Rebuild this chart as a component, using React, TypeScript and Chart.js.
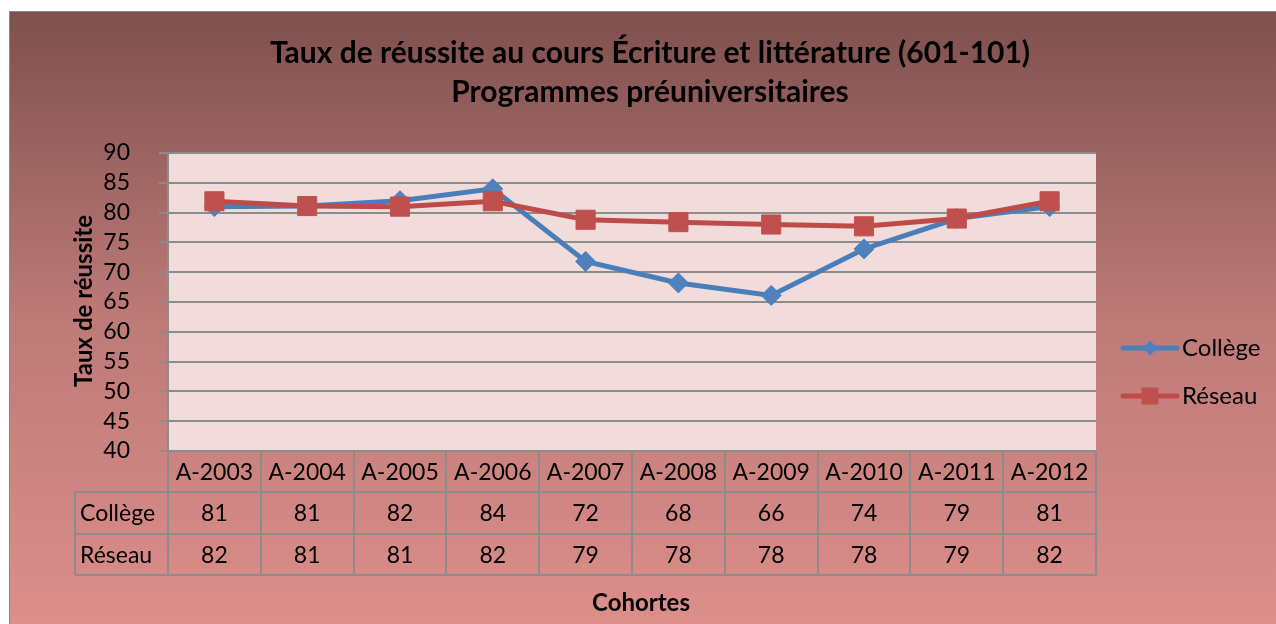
import React, { useEffect, useRef } from "react";
import { Chart, registerables } from "chart.js";

Chart.register(...registerables);

// ---- data ----
const categories = ["A-2003", "A-2004", "A-2005", "A-2006", "A-2007", "A-2008", "A-2009", "A-2010", "A-2011", "A-2012"];
const collegeValues = [81.0, 81.1, 82.0, 84.0, 71.8, 68.2, 66.1, 73.9, 79.0, 81.0];
const reseauValues = [81.9, 81.1, 81.0, 81.9, 78.8, 78.4, 78.0, 77.7, 79.0, 81.9];
const seriesNames = ["Collège", "Réseau"];
const yMin = 40;
const yMax = 90;
const yStep = 5;
const titleLines = ["Taux de réussite au cours Écriture et littérature (601-101)", "Programmes préuniversitaires"];
const yAxisTitle = "Taux de réussite";
const xAxisTitle = "Cohortes";

// ---- styles ----
const W = 1276;
const H = 624;
const FONT = "Lato, 'Noto Sans', sans-serif";
const GRID = "#8c8c8c";
const BLUE_LINE = "#4a7ebb";
const BLUE_FILL = "#4f81bd";
const RED_LINE = "#be4b48";
const RED_FILL = "#c0504d";

const bgPlugin = {
  id: "bgPlugin",
  beforeDraw(chart: any) {
    const { ctx, chartArea: a } = chart;
    ctx.save();
    ctx.fillStyle = "#ffffff";
    ctx.fillRect(0, 0, W, H);
    const g = ctx.createLinearGradient(0, 11, 0, H);
    g.addColorStop(0, "#7e504e");
    g.addColorStop(0.5, "#bd7a77");
    g.addColorStop(1, "#dc8e8a");
    ctx.fillStyle = g;
    ctx.fillRect(9, 11, W - 9, H - 11);
    ctx.strokeStyle = "#8a8a8a";
    ctx.lineWidth = 1;
    ctx.beginPath();
    ctx.moveTo(9.5, H);
    ctx.lineTo(9.5, 11.5);
    ctx.lineTo(W, 11.5);
    ctx.stroke();
    ctx.fillStyle = "#f2dcdb";
    ctx.fillRect(a.left, a.top, a.right - a.left, a.bottom - a.top);
    ctx.restore();
  },
};

function drawMarker(ctx: CanvasRenderingContext2D, kind: number, x: number, y: number, s: number) {
  ctx.beginPath();
  if (kind === 0) {
    ctx.moveTo(x, y - s);
    ctx.lineTo(x + s, y);
    ctx.lineTo(x, y + s);
    ctx.lineTo(x - s, y);
    ctx.closePath();
  } else {
    ctx.rect(x - s, y - s, 2 * s, 2 * s);
  }
  ctx.fill();
}

const textPlugin = {
  id: "textPlugin",
  afterDraw(chart: any) {
    const { ctx, chartArea: a } = chart;
    const xs = chart.scales.x;
    ctx.save();
    ctx.fillStyle = "#000";
    // title
    ctx.textAlign = "center";
    ctx.textBaseline = "middle";
    ctx.font = `bold 30px ${FONT}`;
    ctx.fillText(titleLines[0], 650, 53);
    ctx.fillText(titleLines[1], 650, 92);
    // y title
    ctx.save();
    ctx.translate(84, 301);
    ctx.rotate(-Math.PI / 2);
    ctx.font = `bold 24px ${FONT}`;
    ctx.fillText(yAxisTitle, 0, 0);
    ctx.restore();
    // x title
    ctx.font = `bold 24px ${FONT}`;
    ctx.fillText(xAxisTitle, 641, 603);

    // data table
    const n = categories.length;
    const colW = (xs.right - xs.left) / n;
    const top = a.bottom;
    const rowH = 41.3;
    const labelLeft = 75;
    ctx.strokeStyle = GRID;
    ctx.lineWidth = 2;
    ctx.beginPath();
    for (let r = 1; r <= 3; r++) {
      const y = Math.round(top + r * rowH);
      ctx.moveTo(labelLeft, y);
      ctx.lineTo(xs.right, y);
    }
    for (let i = 0; i <= n; i++) {
      const x = Math.round(xs.left + i * colW);
      ctx.moveTo(x, top);
      ctx.lineTo(x, Math.round(top + 3 * rowH));
    }
    ctx.moveTo(labelLeft, Math.round(top + rowH));
    ctx.lineTo(labelLeft, Math.round(top + 3 * rowH));
    ctx.stroke();

    ctx.font = `23px ${FONT}`;
    ctx.textAlign = "center";
    const rows = [collegeValues, reseauValues];
    categories.forEach((c, i) => {
      const cx = xs.getPixelForValue(i);
      ctx.fillText(c, cx, top + rowH / 2 + 1);
      rows.forEach((vals, r) => {
        ctx.fillText(String(Math.round(vals[i])), cx, top + (r + 1.5) * rowH + 1);
      });
    });
    ctx.textAlign = "left";
    seriesNames.forEach((name, r) => {
      ctx.fillText(name, 80, top + (r + 1.5) * rowH + 1);
    });

    // legend
    const legendY = [348, 396];
    const lineCols = [BLUE_LINE, RED_LINE];
    const fillCols = [BLUE_FILL, RED_FILL];
    seriesNames.forEach((name, r) => {
      const y = legendY[r];
      ctx.strokeStyle = lineCols[r];
      ctx.lineWidth = 5;
      ctx.lineCap = "round";
      ctx.beginPath();
      ctx.moveTo(1123, y);
      ctx.lineTo(1177, y);
      ctx.stroke();
      ctx.fillStyle = fillCols[r];
      drawMarker(ctx, r, 1150, y, r === 0 ? 7.5 : 8.5);
      ctx.fillStyle = "#000";
      ctx.font = `24px ${FONT}`;
      ctx.textAlign = "left";
      ctx.fillText(name, 1182, y);
    });
    ctx.restore();
  },
};

export default function App() {
  const ref = useRef<HTMLCanvasElement | null>(null);
  useEffect(() => {
    if (!ref.current) return;
    const chart = new Chart(ref.current, {
      type: "line",
      data: {
        labels: categories,
        datasets: [
          {
            label: seriesNames[0],
            data: collegeValues,
            borderColor: BLUE_LINE,
            backgroundColor: BLUE_FILL,
            borderWidth: 5,
            pointStyle: "rectRot",
            pointRadius: 10,
            pointBackgroundColor: BLUE_FILL,
            pointBorderColor: BLUE_FILL,
            pointBorderWidth: 1,
            tension: 0,
            order: 1,
          },
          {
            label: seriesNames[1],
            data: reseauValues,
            borderColor: RED_LINE,
            backgroundColor: RED_FILL,
            borderWidth: 5,
            pointStyle: "rect",
            pointRadius: 13.5,
            pointBackgroundColor: RED_FILL,
            pointBorderColor: RED_FILL,
            pointBorderWidth: 1,
            tension: 0,
            order: 0,
          },
        ],
      },
      options: {
        responsive: false,
        animation: false,
        devicePixelRatio: 1,
        layout: { padding: { left: 0, top: 153, right: W - 1096, bottom: 0 } },
        plugins: {
          legend: { display: false },
          title: { display: false },
          tooltip: { enabled: false },
        },
        scales: {
          x: {
            type: "category",
            offset: true,
            grid: { display: false },
            border: { display: false },
            ticks: { display: false },
            afterFit: (s: any) => {
              s.height = H - 451;
            },
          },
          y: {
            min: yMin,
            max: yMax,
            ticks: {
              stepSize: yStep,
              autoSkip: false,
              color: "#000",
              padding: 29,
              font: { family: FONT, size: 23 },
            },
            grid: { color: GRID, lineWidth: 2, tickLength: 9, tickColor: GRID },
            border: { display: true, color: GRID, width: 2 },
            afterFit: (s: any) => {
              s.width = 168;
            },
          },
        },
      },
      plugins: [bgPlugin, textPlugin],
    } as any);
    return () => chart.destroy();
  }, []);
  return (
    <div style={{ position: "absolute", left: 0, top: 0, width: W, height: H }}>
      <canvas ref={ref} width={W} height={H} style={{ width: W, height: H, display: "block" }} />
    </div>
  );
}
